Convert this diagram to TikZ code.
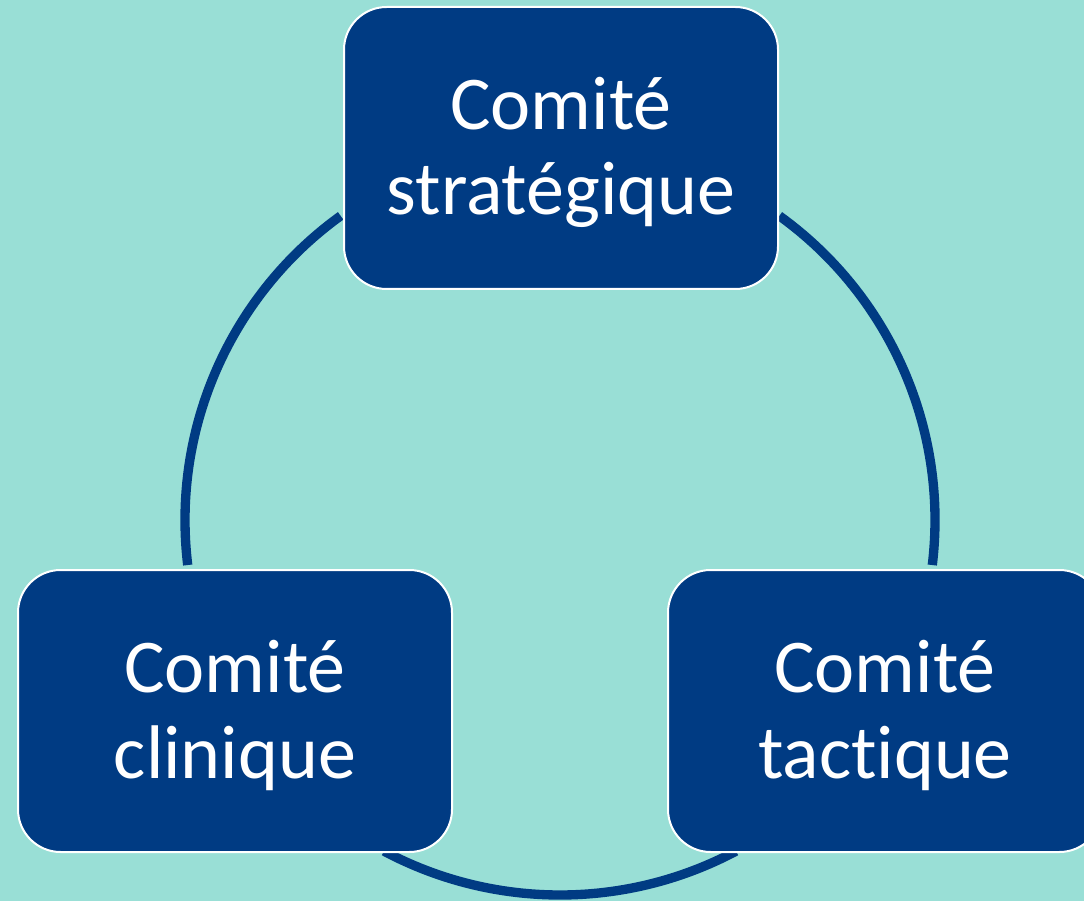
\documentclass[tikz,border=0pt]{standalone}
\usepackage{fontspec}
\setmainfont[Ligatures=NoCommon]{Carlito}
\usetikzlibrary{positioning}
\definecolor{bgteal}{RGB}{153,223,214}
\definecolor{comblue}{RGB}{0,59,131}

\begin{document}
\begin{tikzpicture}[x=0.75pt,y=0.75pt,
  comite/.style={draw=white,line width=1.5pt,fill=comblue,text=white,
    rounded corners=32pt,minimum width=325.5pt,minimum height=211.5pt,
    align=center,font=\fontsize{57}{64}\selectfont},
  cycleline/.style={draw=comblue,line width=7pt}]
\clip (0,0) rectangle (1084,901);
\fill[bgteal] (0,0) rectangle (1084,901);
\coordinate (ctr) at (560,381);

% arcs of the cycle
\draw[cycleline] (ctr) ++(125.8:375) arc[start angle=125.8,end angle=186.9,radius=375];
\draw[cycleline] (ctr) ++(54.2:375) arc[start angle=54.2,end angle=-6.9,radius=375];
\draw[cycleline] (ctr) ++(242:375) arc[start angle=242,end angle=298,radius=375];

\node[comite] (strat) at (561,753) {\rule{0pt}{46pt}Comité\\stratégique};
\node[comite] (clin) at (235,190) {\rule{0pt}{46pt}Comité\\clinique};
\node[comite] (tact) at (885,190) {\rule{0pt}{46pt}Comité\\tactique};

\end{tikzpicture}
\end{document}
